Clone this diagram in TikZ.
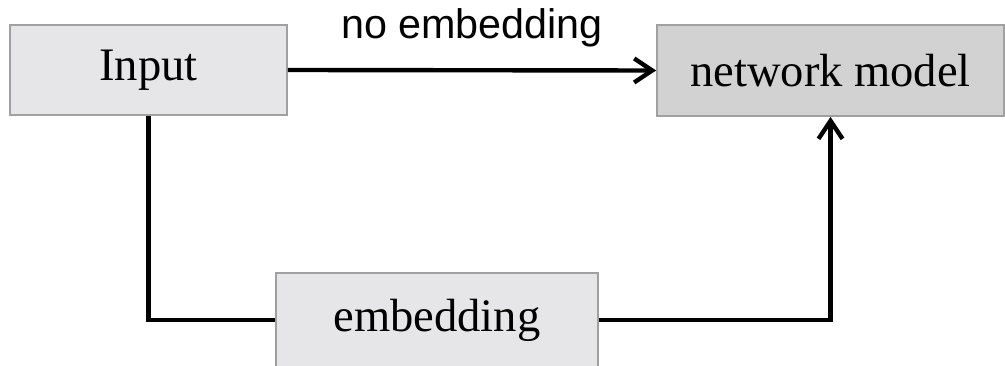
\documentclass[tikz,border=0pt]{standalone}
\usepackage{fontspec}
\setmainfont{Liberation Serif}
\setsansfont{Liberation Sans}
\usepackage{xcolor}
\definecolor{Box}{HTML}{E6E6E8}
\definecolor{Model}{HTML}{D2D2D2}
\definecolor{Border}{HTML}{A0A0A0}
\usetikzlibrary{arrows.meta}
\tikzset{
  every picture/.style={font={\fontsize{26.5}{30}\selectfont}, >={Straight Barb[length=3.6mm,width=4.8mm]}},
  stagebox/.style={draw=Border, line width=1pt, fill=Box, inner sep=0pt},
  flow/.style={black, line width=2.5pt}}

\begin{document}
\begin{tikzpicture}
    \useasboundingbox (0,0) rectangle (20.1,7.3);

    \node[stagebox, minimum width=5.54cm, minimum height=1.8cm] (input) at (2.97, 5.9) {Input};
    \node[stagebox, fill=Model, minimum width=6.94cm, minimum height=1.82cm] (model) at (16.61, 5.89) {network model};
    \node[stagebox, minimum width=6.44cm, minimum height=1.88cm] (embed) at (8.74, 0.9) {embedding};

    \draw[flow, ->] (input.east) -- (model.west)
      node[midway, above=0.3cm, font={\sffamily\fontsize{23.5}{28}\selectfont}] (noemb) {no embedding};
    \draw[flow] (input.south) |- (embed.west);
    \draw[flow, ->] (embed.east) -| (model.south);
  \end{tikzpicture}
\end{document}
